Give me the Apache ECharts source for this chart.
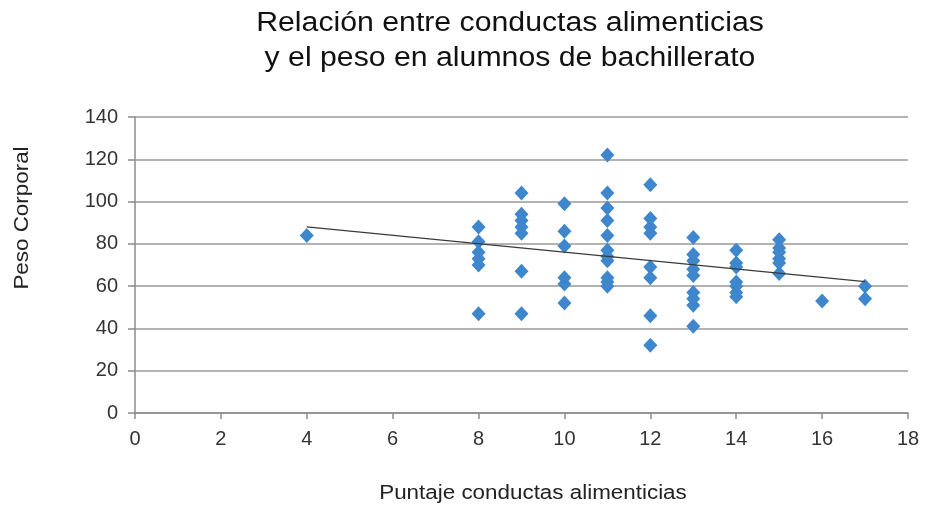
<!DOCTYPE html>
<html>
<head>
<meta charset="utf-8">
<script src="https://cdn.jsdelivr.net/npm/echarts@6/dist/echarts.min.js"></script>
<style>
  html, body { margin: 0; padding: 0; background: #fff; }
  #chart { width: 925px; height: 511px; }
</style>
</head>
<body>
<div id="chart"></div>
<script>
// Puntaje de conductas alimenticias (x) y peso corporal (y) por alumno
const puntaje = [
  4,
  8, 8, 8, 8, 8, 8,
  9, 9, 9, 9, 9, 9, 9,
  10, 10, 10, 10, 10, 10,
  11, 11, 11, 11, 11, 11, 11, 11, 11, 11, 11,
  12, 12, 12, 12, 12, 12, 12, 12,
  13, 13, 13, 13, 13, 13, 13, 13, 13,
  14, 14, 14, 14, 14, 14, 14,
  15, 15, 15, 15, 15, 15,
  16,
  17, 17
];
const peso = [
  84,
  88, 81, 76, 73, 70, 47,
  104, 94, 91, 88, 85, 67, 47,
  99, 86, 79, 64, 61, 52,
  122, 104, 97, 91, 84, 77, 74, 72, 64, 62, 60,
  108, 92, 88, 85, 69, 64, 46, 32,
  83, 75, 72, 68, 65, 57, 54, 51, 41,
  77, 71, 69, 62, 60, 57, 55,
  82, 78, 76, 73, 71, 66,
  53,
  60, 54
];
const xTicks = [0, 2, 4, 6, 8, 10, 12, 14, 16, 18];
const yTicks = [0, 20, 40, 60, 80, 100, 120, 140];

const titulo = 'Relación entre conductas alimenticias\ny el peso en alumnos de bachillerato';
const nombreX = 'Puntaje conductas alimenticias';
const nombreY = 'Peso Corporal';

const puntos = puntaje.map((x, i) => [x, peso[i]]);

// Línea de tendencia por mínimos cuadrados
const n = puntos.length;
const mx = puntaje.reduce((a, b) => a + b, 0) / n;
const my = peso.reduce((a, b) => a + b, 0) / n;
let sxy = 0, sxx = 0;
for (let i = 0; i < n; i++) {
  sxy += (puntaje[i] - mx) * (peso[i] - my);
  sxx += (puntaje[i] - mx) * (puntaje[i] - mx);
}
const pendiente = sxy / sxx;
const intercepto = my - pendiente * mx;
const xMin = Math.min(...puntaje), xMax = Math.max(...puntaje);
const tendencia = [
  [xMin, intercepto + pendiente * xMin],
  [xMax, intercepto + pendiente * xMax]
];

const FONT = '"Liberation Sans", Arial, sans-serif';
const chart = echarts.init(document.getElementById('chart'), null, { renderer: 'canvas' });
chart.setOption({
  backgroundColor: '#ffffff',
  animation: false,
  grid: { left: 135, right: 17, top: 117, bottom: 98, containLabel: false },
  xAxis: {
    type: 'value',
    min: xTicks[0], max: xTicks[xTicks.length - 1], interval: 2,
    axisLine: { show: true, lineStyle: { color: '#8c8c8c', width: 1.5 } },
    axisTick: { show: true, length: 6, lineStyle: { color: '#8c8c8c', width: 1.5 } },
    axisLabel: { fontFamily: FONT, fontSize: 20, color: '#333333', margin: 16 },
    splitLine: { show: false }
  },
  yAxis: {
    type: 'value',
    min: yTicks[0], max: yTicks[yTicks.length - 1], interval: 20,
    axisLine: { show: true, lineStyle: { color: '#8c8c8c', width: 1.5 } },
    axisTick: { show: true, length: 7, lineStyle: { color: '#8c8c8c', width: 1.5 } },
    axisLabel: { fontFamily: FONT, fontSize: 20, color: '#333333', margin: 17 },
    splitLine: { show: true, lineStyle: { color: '#9a9a9a', width: 1.5 } }
  },
  graphic: [
    {
      type: 'text',
      x: 510, y: 6,
      scaleX: 1.12,
      style: {
        text: titulo, font: '27px ' + FONT, fill: '#111111',
        textAlign: 'center', textVerticalAlign: 'top', lineHeight: 35
      }
    },
    {
      type: 'text',
      x: 533, y: 493,
      scaleX: 1.12,
      style: {
        text: nombreX, font: '20px ' + FONT, fill: '#222222',
        textAlign: 'center', textVerticalAlign: 'middle'
      }
    },
    {
      type: 'text',
      x: 22, y: 218,
      rotation: Math.PI / 2,
      scaleX: 1.12,
      style: {
        text: nombreY, font: '20px ' + FONT, fill: '#222222',
        textAlign: 'center', textVerticalAlign: 'middle'
      }
    }
  ],
  series: [
    {
      type: 'scatter',
      data: puntos,
      symbol: 'diamond',
      symbolSize: [14, 15],
      itemStyle: { color: '#3f87cc', opacity: 1 },
      z: 3
    },
    {
      type: 'line',
      data: tendencia,
      symbol: 'none',
      lineStyle: { color: '#3a3a3a', width: 1.2 },
      z: 4
    }
  ]
});
</script>
</body>
</html>
